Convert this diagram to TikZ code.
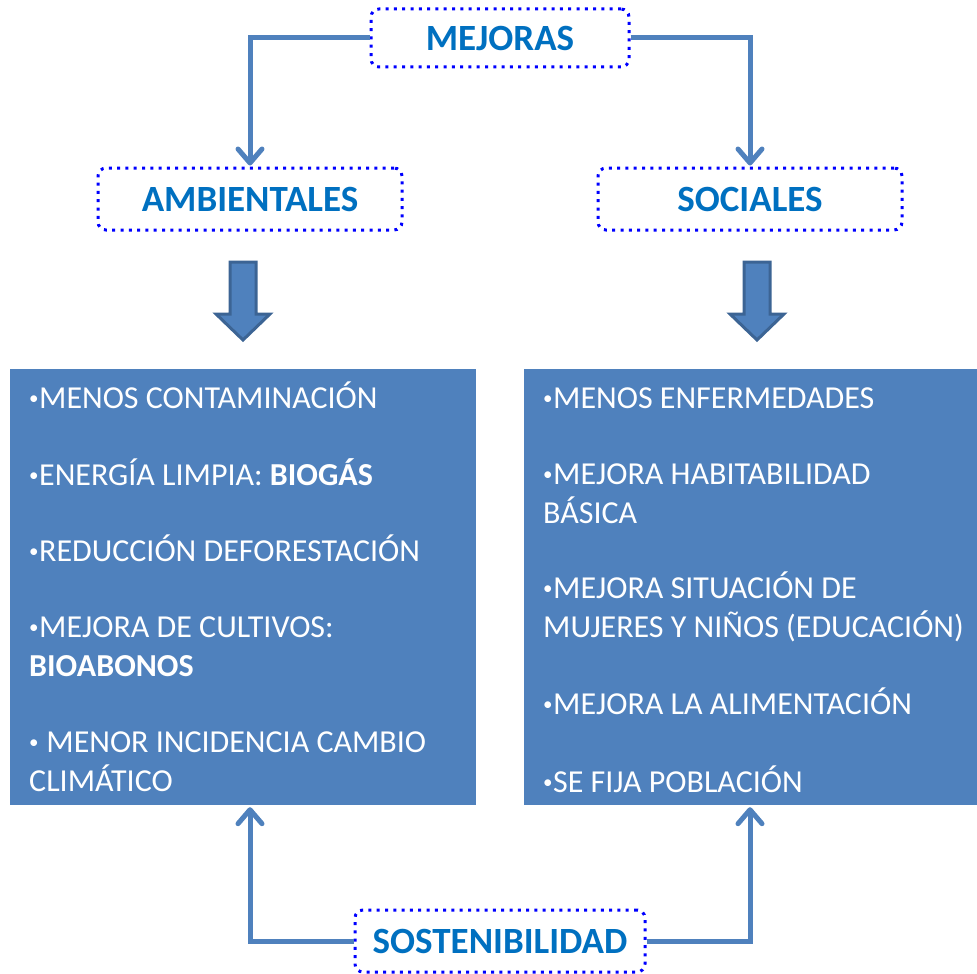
\documentclass[tikz,border=0pt]{standalone}
\usepackage{fontspec}
\setmainfont{Carlito}
\usetikzlibrary{arrows.meta,calc}
\definecolor{boxblue}{HTML}{4F81BD}
\definecolor{darkblue}{HTML}{3C6494}
\definecolor{headblue}{HTML}{0070C0}
\definecolor{dotblue}{HTML}{0000FF}
\newcommand\bul{\raisebox{4pt}{\fontsize{19}{19}\selectfont •}\hspace{0.5pt}}
\tikzset{
  headbox/.style={draw=dotblue, line width=3pt, dash pattern=on 3pt off 5.3pt,
    rounded corners=8pt, fill=white, text=headblue,
    font=\fontsize{37}{40}\selectfont\bfseries, inner sep=0pt},
  conn/.style={draw=boxblue, line width=5pt,
    -{Straight Barb[length=14pt,width=24pt,round]}},
  panel/.style={fill=boxblue, draw=none, inner sep=0pt},
  itemtext/.style={text=white, anchor=base west, align=left, inner sep=0pt,
    font=\fontsize{32}{38.5}\selectfont},
  blockarrow/.style={fill=boxblue, draw=darkblue, line width=3pt, line join=miter}
}
\begin{document}
\begin{tikzpicture}[x=1pt,y=-1pt]
\useasboundingbox (0,0) rectangle (977,974);
% header boxes
\node[headbox, minimum width=258pt, minimum height=58pt] (mej) at (500,38) {MEJORAS};
\node[headbox, minimum width=304pt, minimum height=62pt] (amb) at (250,199) {AMBIENTALES};
\node[headbox, minimum width=304pt, minimum height=62pt] (soc) at (750,199) {SOCIALES};
\node[headbox, minimum width=290pt, minimum height=62pt] (sos) at (500,941) {SOSTENIBILIDAD};
% panels
\node[panel, minimum width=466pt, minimum height=436pt] (lrect) at (243,587) {};
\node[panel, minimum width=453pt, minimum height=436pt] (rrect) at (750.5,587) {};
% connectors
\draw[conn, shorten >=1pt] (mej.west) -| (amb.north);
\draw[conn, shorten >=1pt] (mej.east) -| (soc.north);
\draw[conn, shorten >=2pt] (sos.west) -| (amb.south |- lrect.south);
\draw[conn, shorten >=2pt] (sos.east) -| (soc.south |- rrect.south);
% block arrows
\foreach \cx in {243,757}{
  \draw[blockarrow] (\cx-13,262) -- (\cx+13,262) -- (\cx+13,314) -- (\cx+27,314)
    -- (\cx,340) -- (\cx-27,314) -- (\cx-13,314) -- cycle;
}
% left texts (anchor at baseline of last line)
\node[itemtext] (l1) at (29,408) {\bul MENOS CONTAMINACIÓN};
\node[itemtext] (l2) at (29,485) {\bul ENERGÍA LIMPIA: \textbf{BIOGÁS}};
\node[itemtext] (l3) at (29,561) {\bul REDUCCIÓN DEFORESTACIÓN};
\node[itemtext] (l4) at (29,676) {\bul MEJORA DE CULTIVOS:\\\textbf{BIOABONOS}};
\node[itemtext] (l5) at (29,791) {\bul\ MENOR INCIDENCIA CAMBIO\\CLIMÁTICO};
% right texts
\node[itemtext] (r1) at (543,408) {\bul MENOS ENFERMEDADES};
\node[itemtext] (r2) at (543,523) {\bul MEJORA HABITABILIDAD\\BÁSICA};
\node[itemtext] (r3) at (543,637) {\bul MEJORA SITUACIÓN DE\\MUJERES Y NIÑOS (EDUCACIÓN)};
\node[itemtext] (r4) at (543,714) {\bul MEJORA LA ALIMENTACIÓN};
\node[itemtext] (r5) at (543,792) {\bul SE FIJA POBLACIÓN};
\end{tikzpicture}
\end{document}
